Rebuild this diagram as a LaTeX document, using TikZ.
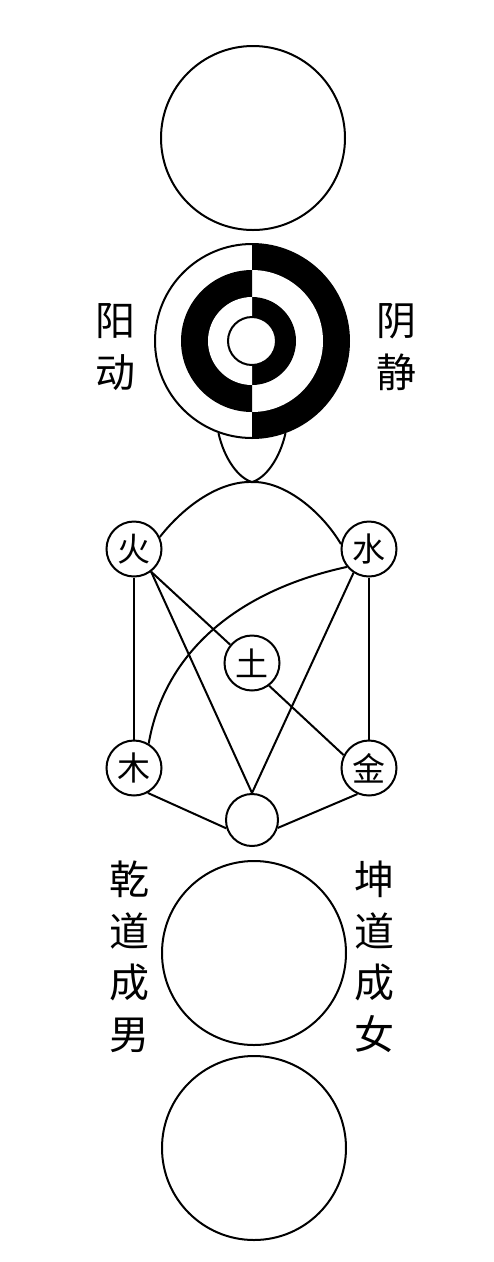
\documentclass[tikz,border=0pt]{standalone}
\usepackage{fontspec}
\newfontfamily\cjk{Noto Sans CJK SC}
\begin{document}
\begin{tikzpicture}[x=1pt,y=-1pt,
  conn/.style={line width=2pt},
  bigc/.style={circle,draw,line width=2pt,minimum size=184pt,inner sep=0pt},
  elem/.style={circle,draw,line width=2pt,minimum size=55pt,inner sep=0pt,fill=white},
  elemtext/.style={font=\cjk\fontsize{33}{33}\selectfont,inner sep=0pt},
  vlabel/.style={font=\cjk\fontsize{40}{51.5}\selectfont,align=center,inner sep=0pt}]
\fill[white] (0,0) rectangle (494,1262);
\useasboundingbox (0,0) rectangle (494,1262);

% Wuji
\node[bigc] (wuji) at (253,138) {};

% Taiji (yin-yang rings)
\begin{scope}
  \clip (252,200) rectangle (400,500);
  \fill[black] (252,341) circle[radius=97];
  \fill[white] (252,341) circle[radius=71];
  \fill[black] (252,341) circle[radius=44];
\end{scope}
\begin{scope}
  \clip (100,200) rectangle (252,500);
  \fill[black] (252,341) circle[radius=71];
  \fill[white] (252,341) circle[radius=44];
\end{scope}
\node[circle,draw,line width=2pt,minimum size=48pt,inner sep=0pt,fill=white] (core) at (252,341) {};
\node[circle,draw,line width=2pt,minimum size=194pt,inner sep=0pt] (taiji) at (252,341) {};

\node[vlabel] (yangdong) at (115,347) {阳\\动};
\node[vlabel] (yinjing) at (396,347) {阴\\静};

% cup and apex
\coordinate (apex) at (252,482);
\draw[conn] (taiji.-110) .. controls (224,458) and (238,478) .. (apex)
            .. controls (266,478) and (280,458) .. (taiji.-70);

% Five elements
\node[elem] (huo) at (134,549) {};
\node[elemtext] at (huo) {火};
\node[elem] (shui) at (369,549) {};
\node[elemtext] at (shui) {水};
\node[elem] (tu) at (252,663) {};
\node[elemtext] at (tu) {土};
\node[elem] (mu) at (134,768) {};
\node[elemtext] at (mu) {木};
\node[elem] (jin) at (369,768) {};
\node[elemtext] at (jin) {金};
\node[elem,minimum size=52pt] (zero) at (252,820) {};

% connectors
\draw[conn] (huo.25) .. controls (185,505) and (220,481) .. (apex)
            .. controls (285,481) and (322,512) .. (shui.170);
\draw[conn] (huo) -- (mu);
\draw[conn] (shui) -- (jin);
\draw[conn] (huo.-53) -- (tu.140);
\draw[conn] (huo.-53) -- (zero.90);
\draw[conn] (shui.-123) -- (zero.90);
\draw[conn] (shui.-141) .. controls (240,590) and (165,650) .. (mu.59);
\draw[conn] (tu.-53) -- (jin.153);
\draw[conn] (mu.-61) -- (zero.-162);
\draw[conn] (jin.-114) -- (zero.-17);

% lower circles
\node[bigc] (qiankun) at (254,953) {};
\node[bigc] (wanwu) at (254,1148) {};
\node[vlabel] (qiandao) at (129,957) {乾\\道\\成\\男};
\node[vlabel] (kundao) at (374,957) {坤\\道\\成\\女};
\end{tikzpicture}
\end{document}
